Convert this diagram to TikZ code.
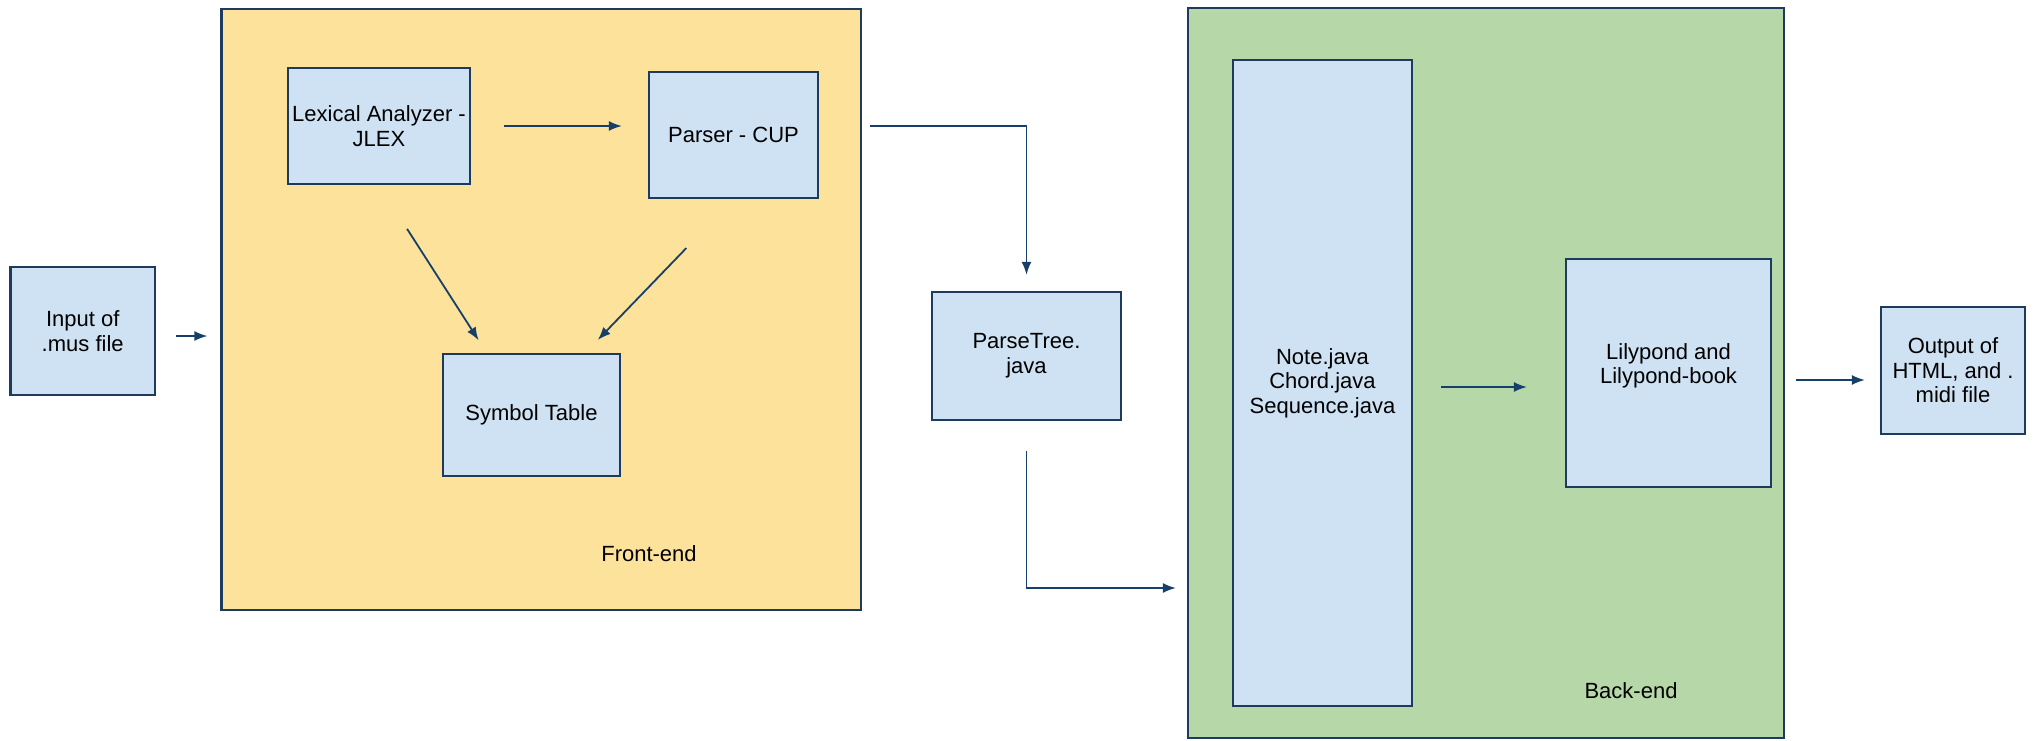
\documentclass[tikz,border=0pt]{standalone}
\usepackage{fontspec}
\setmainfont{Liberation Sans}
\usetikzlibrary{arrows.meta,calc}
\definecolor{feyellow}{RGB}{252,226,154}
\definecolor{begreen}{RGB}{182,215,168}
\definecolor{boxblue}{RGB}{207,226,243}
\definecolor{edge}{RGB}{30,58,92}
\definecolor{arrowc}{RGB}{22,64,105}
\begin{document}
\begin{tikzpicture}[x=0.5pt,y=-0.5pt,
  every node/.style={font=\fontsize{11}{12.3}\selectfont, inner sep=0pt},
  box/.style={draw=edge, line width=1.1pt, fill=boxblue, align=center},
  stage/.style={draw=edge, line width=1.1pt},
  arr/.style={draw=arrowc, line width=0.9pt, -{Latex[length=6.5pt,width=5pt]}},
  lbl/.style={text=black}]
\useasboundingbox (0,0) rectangle (2043,740);
% stage containers
\node[stage, fill=feyellow, minimum width=319.75pt, minimum height=300.5pt] (front) at (541.25,309.5) {};
\node[stage, fill=begreen, minimum width=298pt, minimum height=365pt] (back) at (1486,373) {};
\node[lbl] (felbl) at (649,554) {Front-end};
\node[lbl] (belbl) at (1631,691) {Back-end};
% boxes
\node[box, minimum width=72.3pt, minimum height=64pt] (input) at (82.7,331) {Input of\\.mus file};
\node[box, minimum width=91pt, minimum height=58pt] (lex) at (379,126) {Lexical Analyzer -\\JLEX};
\node[box, minimum width=84.5pt, minimum height=63pt] (parser) at (733.5,135) {Parser - CUP};
\node[box, minimum width=88.5pt, minimum height=61pt] (sym) at (531.5,415) {Symbol Table};
\node[box, minimum width=94.5pt, minimum height=64pt] (ptree) at (1026.5,356) {ParseTree.\\java};
\node[box, minimum width=89.5pt, minimum height=323pt] (note) at (1322.5,383) {Note.java\\Chord.java\\Sequence.java};
\node[box, minimum width=102.5pt, minimum height=114pt] (lily) at (1668.5,373) {};
\node[align=center] (lilytxt) at (1668.5,366) {Lilypond and\\Lilypond-book};
\node[box, minimum width=72pt, minimum height=63.5pt] (output) at (1953,370.5) {Output of\\HTML, and .\\midi file};
% connectors
\coordinate (bendB) at (ptree.south |- 0,588);
\draw[arr, shorten <=10pt, shorten >=6.5pt] ([yshift=-2.5pt]input.east) -- ([yshift=-2.5pt]input.east -| front.west);
\draw[arr, shorten <=16.5pt, shorten >=13pt] (lex.east) -- (lex.east -| parser.west);
\draw[arr, shorten <=26pt, shorten >=7.5pt] (lex.south) -- ($(sym.north west)!0.25!(sym.north east)$);
\draw[arr, shorten <=34pt, shorten >=9pt] (parser.south) -- ($(sym.north west)!0.8!(sym.north east)$);
\draw[arr, shorten <=25.5pt, shorten >=8pt] (parser.east |- lex.east) -| (ptree.north);
\draw[arr, shorten <=15pt, shorten >=5.5pt] (ptree.south) -- (bendB) -- (bendB -| back.west);
\draw[arr, shorten <=14pt, shorten >=19pt] ([yshift=-2pt]note.east) -- ([yshift=-2pt]note.east -| lily.west);
\draw[arr, shorten <=12pt, shorten >=7.5pt] ([yshift=-3.5pt]lily.east) -- ([yshift=-3.5pt]lily.east -| output.west);
\end{tikzpicture}
\end{document}
